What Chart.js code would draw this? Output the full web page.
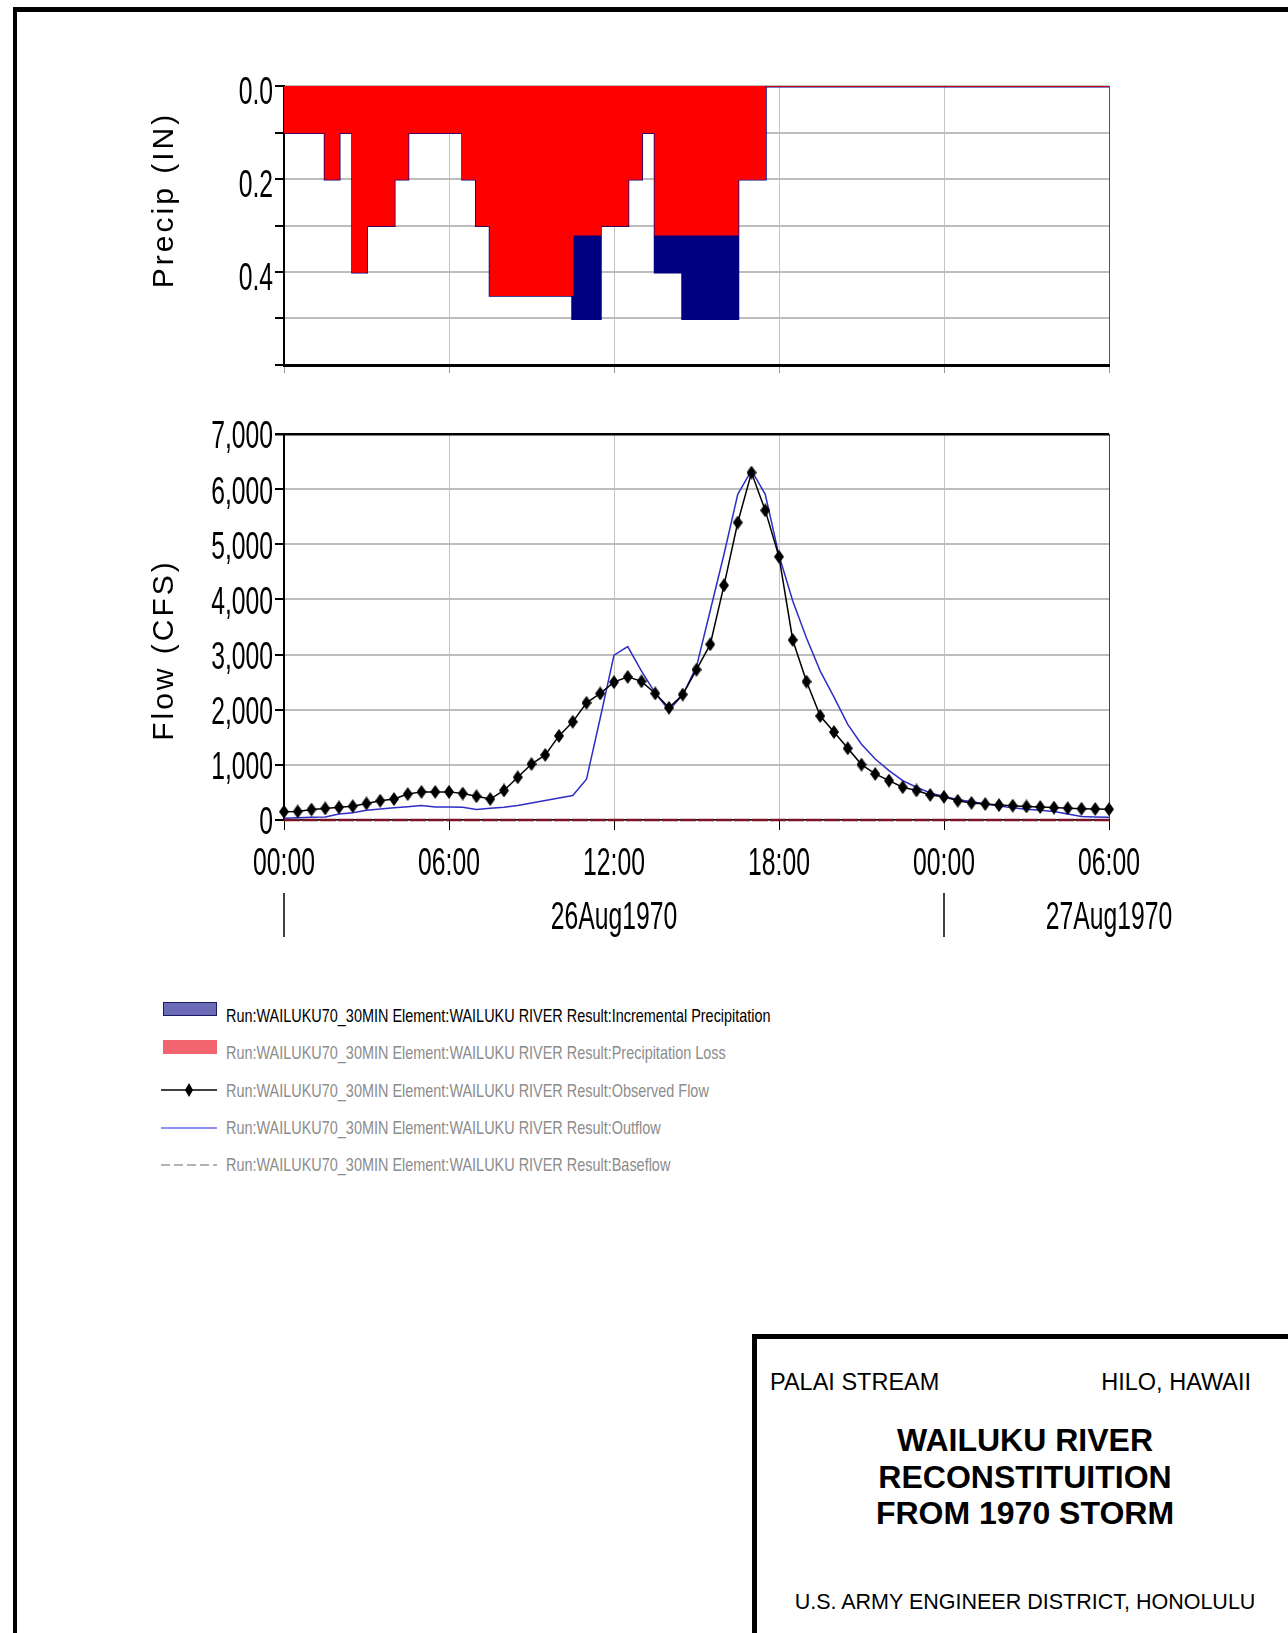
<!DOCTYPE html>
<html>
<head>
<meta charset="utf-8">
<title>Wailuku River Reconstitution from 1970 Storm</title>
<script src="https://cdn.jsdelivr.net/npm/chart.js@4.4.1/dist/chart.umd.min.js"></script>
<style>
  html, body { margin: 0; padding: 0; background: #fff; }
  body { width: 1288px; height: 1633px; position: relative; overflow: hidden; font-family: "Liberation Sans", Arial, sans-serif; color: #000; }
  .bar { position: absolute; background: #000; }
  canvas { position: absolute; left: 0; }
  .ytitle { position: absolute; white-space: nowrap; font-size: 30px; letter-spacing: 3px; line-height: 34px;
            transform: translate(-50%, -50%) rotate(-90deg); }
  .leg { position: absolute; left: 226px; height: 24px; line-height: 24px; white-space: nowrap;
         font-size: 19px; color: #8c8c8c; transform: scaleX(0.76); transform-origin: 0 50%; }
  .leg.first { color: #000; }
  .sw { position: absolute; }
  .tb { position: absolute; white-space: nowrap; }
</style>
</head>
<body>

<!-- sheet frame -->
<div class="bar" style="left:13px; top:7px; width:1275px; height:5px;"></div>
<div class="bar" style="left:13px; top:7px; width:4px; height:1626px;"></div>

<canvas id="precip" width="1288" height="400" style="top:0;"></canvas>
<canvas id="flow" width="1288" height="560" style="top:400px;"></canvas>

<div class="ytitle" style="left:163px; top:200px;">Precip (IN)</div>
<div class="ytitle" style="left:163px; top:650px;">Flow (CFS)</div>

<!-- legend -->
<div class="sw" style="left:163px; top:1002px; width:52px; height:12px; background:#6b6bb8; border:1px solid #1a1a60;"></div>
<div class="leg first" style="top:1004px;">Run:WAILUKU70_30MIN Element:WAILUKU RIVER Result:Incremental Precipitation</div>

<div class="sw" style="left:163px; top:1040px; width:54px; height:14px; background:#f2646e;"></div>
<div class="leg" style="top:1041px;">Run:WAILUKU70_30MIN Element:WAILUKU RIVER Result:Precipitation Loss</div>

<svg class="sw" style="left:161px; top:1082px;" width="56" height="16">
  <line x1="0" y1="8" x2="56" y2="8" stroke="#000" stroke-width="1.5"/>
  <polygon points="28,1 32,8 28,15 24,8" fill="#000"/>
</svg>
<div class="leg" style="top:1079px;">Run:WAILUKU70_30MIN Element:WAILUKU RIVER Result:Observed Flow</div>

<svg class="sw" style="left:161px; top:1120px;" width="56" height="16">
  <line x1="0" y1="8" x2="56" y2="8" stroke="#6a6af0" stroke-width="1.5"/>
</svg>
<div class="leg" style="top:1116px;">Run:WAILUKU70_30MIN Element:WAILUKU RIVER Result:Outflow</div>

<svg class="sw" style="left:161px; top:1157px;" width="56" height="16">
  <line x1="0" y1="8" x2="56" y2="8" stroke="#9a9a9a" stroke-width="1.5" stroke-dasharray="9,4"/>
</svg>
<div class="leg" style="top:1153px;">Run:WAILUKU70_30MIN Element:WAILUKU RIVER Result:Baseflow</div>

<!-- title block -->
<div class="bar" style="left:752px; top:1334px; width:536px; height:5px;"></div>
<div class="bar" style="left:752px; top:1334px; width:5px; height:299px;"></div>
<div class="tb" style="left:770px; top:1368px; font-size:23.5px; line-height:28px;">PALAI STREAM</div>
<div class="tb" style="right:37px; top:1368px; font-size:23.5px; line-height:28px;">HILO, HAWAII</div>
<div class="tb" style="left:757px; width:536px; top:1422px; font-size:32px; line-height:36.5px; font-weight:bold; text-align:center;">WAILUKU RIVER<br>RECONSTITUITION<br>FROM 1970 STORM</div>
<div class="tb" style="left:757px; width:536px; top:1588px; font-size:21.5px; line-height:28px; text-align:center;">U.S. ARMY ENGINEER DISTRICT, HONOLULU</div>

<script>
// 30-minute series, 00:00 26Aug1970 to 06:00 27Aug1970 (hours)
const STEP_HOURS = 0.5;

// precipitation per 30-min interval (inches), interval start = index * 0.5 h
const precipTotal = [
  0.1, 0.1, 0.1, 0.2, 0.1, 0.4, 0.3, 0.3, 0.2, 0.1,
  0.1, 0.1, 0.1, 0.2, 0.3, 0.45, 0.45, 0.45, 0.45, 0.45,
  0.45, 0.5, 0.5, 0.3, 0.3, 0.2, 0.1, 0.4, 0.4, 0.5,
  0.5, 0.5, 0.5, 0.2, 0.2, 0, 0, 0, 0, 0,
  0, 0, 0, 0, 0, 0, 0, 0, 0, 0,
  0, 0, 0, 0, 0, 0, 0, 0, 0, 0
];
const precipLoss = [
  0.1, 0.1, 0.1, 0.2, 0.1, 0.4, 0.3, 0.3, 0.2, 0.1,
  0.1, 0.1, 0.1, 0.2, 0.3, 0.45, 0.45, 0.45, 0.45, 0.45,
  0.45, 0.32, 0.32, 0.3, 0.3, 0.2, 0.1, 0.32, 0.32, 0.32,
  0.32, 0.32, 0.32, 0.2, 0.2, 0, 0, 0, 0, 0,
  0, 0, 0, 0, 0, 0, 0, 0, 0, 0,
  0, 0, 0, 0, 0, 0, 0, 0, 0, 0
];

// flows (cfs) at index * 0.5 h
const observedFlow = [
  150, 155, 190, 210, 230, 250, 300, 350, 380, 470,
  510, 510, 510, 480, 430, 380, 535, 775, 1015, 1180,
  1525, 1780, 2125, 2295, 2500, 2595, 2515, 2295, 2035, 2275,
  2725, 3185, 4255, 5395, 6300, 5615, 4775, 3265, 2510, 1885,
  1595, 1300, 1005, 835, 715, 595, 535, 455, 420, 350,
  310, 290, 270, 260, 245, 235, 225, 215, 205, 200,
  195
];
const outflow = [
  30, 40, 50, 55, 110, 130, 175, 200, 220, 240,
  265, 235, 235, 230, 190, 215, 230, 265, 310, 355,
  400, 445, 740, 1850, 2990, 3145, 2700, 2300, 1990, 2270,
  2780, 3800, 4820, 5905, 6340, 5905, 4800, 3970, 3300, 2700,
  2230, 1735, 1375, 1105, 895, 715, 595, 492, 427, 370,
  330, 294, 255, 220, 195, 175, 155, 110, 65, 55,
  50
];
const baseflow = [
  0, 0, 0, 0, 0, 0, 0, 0, 0, 0,
  0, 0, 0, 0, 0, 0, 0, 0, 0, 0,
  0, 0, 0, 0, 0, 0, 0, 0, 0, 0,
  0, 0, 0, 0, 0, 0, 0, 0, 0, 0,
  0, 0, 0, 0, 0, 0, 0, 0, 0, 0,
  0, 0, 0, 0, 0, 0, 0, 0, 0, 0,
  0
];

// tick labels, keyed by tick value / step
const precipTickLabels = ['0.0', '', '0.2', '', '0.4', '', ''];
const flowTickLabels = ['0', '1,000', '2,000', '3,000', '4,000', '5,000', '6,000', '7,000'];
const timeTickLabels = ['00:00', '06:00', '12:00', '18:00', '00:00', '06:00'];
const dateLabelTexts = ['26Aug1970', '27Aug1970'];
const dateLabelHours = [12, 30];
const daySeparatorHours = [0, 24];

const LABEL_FONT = "38px 'Liberation Sans', Arial, sans-serif";
const SQUEEZE = 0.65;   // the HMS plot uses a tall condensed face

function stepPoints(vals) {
  const pts = vals.map((v, i) => ({ x: i * STEP_HOURS, y: v }));
  pts.push({ x: vals.length * STEP_HOURS, y: vals[vals.length - 1] });
  return pts;
}
function flowPoints(vals) {
  return vals.map((v, i) => ({ x: i * STEP_HOURS, y: v }));
}

function drawCondensed(ctx, text, x, y, align) {
  if (!text) return;
  ctx.save();
  ctx.translate(x, y);
  ctx.scale(SQUEEZE, 1);
  ctx.font = LABEL_FONT;
  ctx.fillStyle = '#000';
  ctx.textAlign = align;
  ctx.textBaseline = 'middle';
  ctx.fillText(text, 0, 0);
  ctx.restore();
}

// tall narrow diamond marker like the HEC-HMS plot
function diamondMarker() {
  const c = document.createElement('canvas');
  c.width = 10; c.height = 14;
  const g = c.getContext('2d');
  g.fillStyle = '#000';
  g.beginPath();
  g.moveTo(5, 0); g.lineTo(10, 7); g.lineTo(5, 14); g.lineTo(0, 7);
  g.closePath();
  g.fill();
  return c;
}

const precipLabels = {
  id: 'precipLabels',
  afterDraw(chart) {
    const y = chart.scales.y;
    const left = chart.chartArea.left;
    y.ticks.forEach(t => {
      drawCondensed(chart.ctx, precipTickLabels[Math.round(t.value * 10)], left - 11, y.getPixelForValue(t.value) + 8, 'right');
    });
  }
};

const flowLabels = {
  id: 'flowLabels',
  afterDraw(chart) {
    const { ctx, chartArea } = chart;
    const x = chart.scales.x, y = chart.scales.y;
    y.ticks.forEach(t => {
      drawCondensed(ctx, flowTickLabels[Math.round(t.value / 1000)], chartArea.left - 11, y.getPixelForValue(t.value) + 4, 'right');
    });
    x.ticks.forEach(t => {
      drawCondensed(ctx, timeTickLabels[Math.round(t.value / 6)], x.getPixelForValue(t.value), 465, 'center');
    });
    dateLabelHours.forEach((h, i) => drawCondensed(ctx, dateLabelTexts[i], x.getPixelForValue(h), 519, 'center'));

    ctx.save();
    ctx.strokeStyle = '#000';
    ctx.lineWidth = 1.5;
    daySeparatorHours.forEach(h => {
      const px = x.getPixelForValue(h);
      ctx.beginPath();
      ctx.moveTo(px, 493);
      ctx.lineTo(px, 537);
      ctx.stroke();
    });
    ctx.restore();
  }
};

// precipitation hyetograph (inverted)
new Chart(document.getElementById('precip'), {
  type: 'line',
  data: {
    datasets: [
      {
        label: 'Precipitation Loss',
        data: stepPoints(precipLoss),
        stepped: true,
        fill: 'origin',
        backgroundColor: '#ff0000',
        borderColor: '#ff0000',
        borderWidth: 1.5,
        pointRadius: 0,
        order: 0
      },
      {
        label: 'Incremental Precipitation',
        data: stepPoints(precipTotal),
        stepped: true,
        fill: 'origin',
        backgroundColor: '#000080',
        borderColor: '#000080',
        borderWidth: 3,
        pointRadius: 0,
        order: 1
      }
    ]
  },
  options: {
    responsive: false,
    animation: false,
    events: [],
    layout: { padding: { left: 144, right: 179, top: 86, bottom: 10 } },
    plugins: { legend: { display: false }, tooltip: { enabled: false } },
    scales: {
      x: {
        type: 'linear', min: 0, max: 30,
        ticks: { stepSize: 6, display: false },
        grid: {
          color: c => c.tick && c.tick.value === 30 ? '#555' : '#c4c4c4',
          lineWidth: 1, tickLength: 8, tickColor: '#999'
        },
        border: { display: true, color: '#000', width: 3 },
        afterFit: s => { s.height = 25; }
      },
      y: {
        min: 0, max: 0.6, reverse: true,
        ticks: { stepSize: 0.1, display: false },
        grid: { color: '#bdbdbd', lineWidth: 2, tickLength: 9, tickColor: '#000' },
        border: { display: true, color: '#000', width: 2 },
        afterFit: s => { s.width = 140; }
      }
    }
  },
  plugins: [precipLabels]
});

// hydrograph
new Chart(document.getElementById('flow'), {
  type: 'line',
  data: {
    datasets: [
      {
        label: 'Observed Flow',
        data: flowPoints(observedFlow),
        borderColor: '#000',
        borderWidth: 1.5,
        pointStyle: diamondMarker(),
        pointRadius: 5,
        tension: 0,
        clip: 10,
        order: 0
      },
      {
        label: 'Outflow',
        data: flowPoints(outflow),
        borderColor: '#2e2ec4',
        borderWidth: 1.5,
        pointRadius: 0,
        tension: 0,
        order: 1
      },
      {
        label: 'Baseflow',
        data: flowPoints(baseflow),
        borderColor: '#7a1424',
        borderWidth: 2.5,
        borderDash: [16, 2],
        pointRadius: 0,
        clip: 3,
        order: 2
      }
    ]
  },
  options: {
    responsive: false,
    animation: false,
    events: [],
    layout: { padding: { left: 144, right: 179, top: 34, bottom: 12 } },
    plugins: { legend: { display: false }, tooltip: { enabled: false } },
    scales: {
      x: {
        type: 'linear', min: 0, max: 30,
        ticks: { stepSize: 6, display: false },
        grid: {
          color: c => c.tick && c.tick.value === 30 ? '#444' : '#c4c4c4',
          lineWidth: 1, tickLength: 10, tickColor: '#000'
        },
        border: { display: true, color: '#000', width: 1.5 },
        afterFit: s => { s.height = 128; }
      },
      y: {
        min: 0, max: 7000,
        ticks: { stepSize: 1000, display: false },
        grid: {
          color: c => c.tick && c.tick.value === 7000 ? '#000' : '#bdbdbd',
          lineWidth: c => c.tick && c.tick.value === 7000 ? 2.5 : 2,
          tickLength: 9, tickColor: '#000'
        },
        border: { display: true, color: '#000', width: 2 },
        afterFit: s => { s.width = 140; }
      }
    }
  },
  plugins: [flowLabels]
});
</script>
</body>
</html>
